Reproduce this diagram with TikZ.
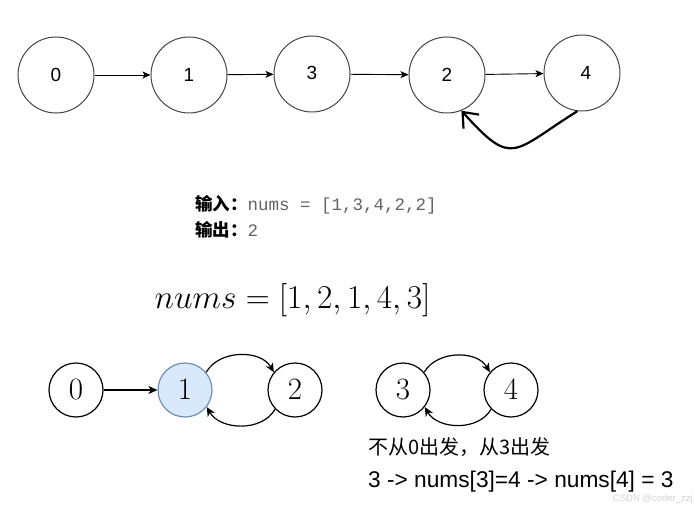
\RequirePackage{fix-cm}
\documentclass[tikz,border=0pt]{standalone}
\usepackage[no-math]{fontspec}
\setmainfont{Liberation Sans}
\newfontfamily\cjk{Noto Sans CJK SC}
\newfontfamily\monof{Liberation Mono}
\usetikzlibrary{arrows.meta}
\definecolor{codegray}{RGB}{100,100,100}
\definecolor{hlfill}{RGB}{218,232,252}
\definecolor{hldraw}{RGB}{108,142,191}
\definecolor{ringgray}{RGB}{70,70,70}
\tikzset{
  topnode/.style={circle, draw=ringgray, line width=1pt, minimum size=76pt, inner sep=0pt, font=\fontsize{19}{22}\selectfont},
  botnode/.style={circle, draw=black, line width=1.2pt, minimum size=54pt, inner sep=0pt, font=\fontsize{31}{36}\selectfont},
  toparrow/.style={-{Stealth[length=8pt,width=7pt,inset=2pt]}, line width=0.9pt},
  botarrow/.style={-{Stealth[length=9pt,width=8pt,inset=2.5pt]}, line width=1.2pt},
  backarrow/.style={-{Straight Barb[length=13pt,width=21pt]}, line width=2.2pt},
  txt/.style={inner sep=0pt, anchor=west}
}
\begin{document}
\begin{tikzpicture}[x=1pt,y=1pt]
\useasboundingbox (0,0) rectangle (695,504);
% top row
\node[topnode] (t0) at (56,429) {0};
\node[topnode] (t1) at (189,429) {1};
\node[topnode] (t3) at (312,430) {\raisebox{2pt}{3}};
\node[topnode] (t2) at (447,429) {2};
\node[topnode] (t4) at (582,431) {\hspace{8pt}4};
\draw[toparrow] (t0) -- (t1);
\draw[toparrow] (t1) -- (t3);
\draw[toparrow] (t3) -- (t2);
\draw[toparrow] (t2) -- (t4);
\draw[backarrow] (t4.-97) to[out=212,in=-48,looseness=1.7] (t2.-68);
% input/output text
\node[txt] (inp) at (195,299) {\fontsize{17.5}{20}\selectfont{\cjk\bfseries 输入：}\textcolor{codegray}{\monof nums = [1,3,4,2,2]}};
\node[txt] (outp) at (195,274) {\fontsize{17.5}{20}\selectfont{\cjk\bfseries 输出：}\textcolor{codegray}{\monof 2}};
% formula
\node[inner sep=0pt] (formula) at (292.5,204) {\fontsize{33.3}{38}\selectfont $nums=[1,2,1,4,3]$};
% bottom row
\node[botnode] (b0) at (76,114) {$0$};
\node[botnode, fill=hlfill, draw=hldraw] (b1) at (185,114) {$1$};
\node[botnode] (b2) at (295,114) {$2$};
\node[botnode] (b3) at (403,114) {$3$};
\node[botnode] (b4) at (511,114) {$4$};
\draw[botarrow] (b0) -- (b1);
\draw[botarrow] (b1.40) to[out=60,in=120] (b2.140);
\draw[botarrow] (b2.-136) to[out=-120,in=-60] (b1.-38);
\draw[botarrow] (b3.40) to[out=60,in=120] (b4.140);
\draw[botarrow] (b4.-136) to[out=-120,in=-60] (b3.-38);
% bottom texts
\node[txt] (note) at (368,57) {\cjk\fontsize{20}{23}\selectfont 不从0出发，从3出发};
\node[txt] (seq) at (368,22) {\fontsize{22.7}{26}\selectfont 3 -> nums[3]=4 -> nums[4] = 3};
\node[inner sep=0pt, anchor=east, text=gray!35] (wm) at (693,4.5) {\fontsize{9.5}{11}\selectfont CSDN @coder\_zzj};
\end{tikzpicture}
\end{document}
